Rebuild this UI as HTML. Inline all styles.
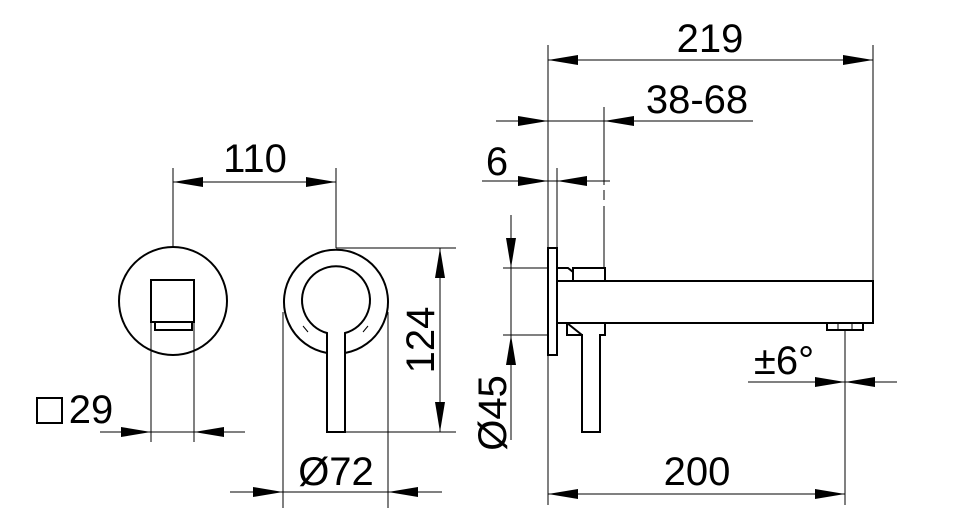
<!DOCTYPE html>
<html><head><style>html,body{margin:0;padding:0;background:#fff;}svg{display:block}</style></head>
<body>
<svg width="960" height="528" viewBox="0 0 960 528" xmlns="http://www.w3.org/2000/svg" font-family="Liberation Sans, sans-serif" font-size="40">
<g stroke="#000" stroke-width="1" fill="none">
<line x1="548" y1="45" x2="548" y2="505"/>
<line x1="873" y1="45" x2="873" y2="281"/>
<line x1="604" y1="107" x2="604" y2="185"/>
<line x1="604" y1="190" x2="604" y2="200"/>
<line x1="604" y1="206" x2="604" y2="268"/>
<line x1="557" y1="168" x2="557" y2="248"/>
<line x1="845" y1="330" x2="845" y2="505"/>
<line x1="503" y1="268" x2="548" y2="268"/>
<line x1="503" y1="335" x2="548" y2="335"/>
<line x1="173" y1="168" x2="173" y2="248"/>
<line x1="336" y1="168" x2="336" y2="248"/>
<line x1="336" y1="248" x2="456" y2="248"/>
<line x1="345" y1="432" x2="456" y2="432"/>
<line x1="283" y1="312" x2="283" y2="508"/>
<line x1="388" y1="312" x2="388" y2="508"/>
<line x1="151" y1="322" x2="151" y2="442"/>
<line x1="194" y1="322" x2="194" y2="442"/>
<line x1="548" y1="60" x2="873" y2="60"/>
<line x1="496" y1="121" x2="753" y2="121"/>
<line x1="482" y1="181" x2="610" y2="181"/>
<line x1="748" y1="382" x2="897" y2="382"/>
<line x1="548" y1="494" x2="845" y2="494"/>
<line x1="511" y1="215" x2="511" y2="440"/>
<line x1="440" y1="248" x2="440" y2="432"/>
<line x1="173" y1="182" x2="336" y2="182"/>
<line x1="230" y1="492" x2="442" y2="492"/>
<line x1="100" y1="432" x2="245" y2="432"/>
</g>
<g stroke="none" fill="#000">
<path d="M548,60 l30,-5 v10 z"/><path d="M873,60 l-30,-5 v10 z"/>
<path d="M548,121 l-30,-5 v10 z"/><path d="M604,121 l30,-5 v10 z"/>
<path d="M548,181 l-30,-5 v10 z"/><path d="M557,181 l30,-5 v10 z"/>
<path d="M845,382 l-30,-5 v10 z"/><path d="M845,382 l30,-5 v10 z"/>
<path d="M548,494 l30,-5 v10 z"/><path d="M845,494 l-30,-5 v10 z"/>
<path d="M511,268 l-5,-30 h10 z"/><path d="M511,335 l-5,30 h10 z"/>
<path d="M440,248 l-5,30 h10 z"/><path d="M440,432 l-5,-30 h10 z"/>
<path d="M173,182 l30,-5 v10 z"/><path d="M336,182 l-30,-5 v10 z"/>
<path d="M283,492 l-30,-5 v10 z"/><path d="M388,492 l30,-5 v10 z"/>
<path d="M151,432 l-30,-5 v10 z"/><path d="M194,432 l30,-5 v10 z"/>
</g>
<g stroke="#000" stroke-width="2" fill="none">
<circle cx="173" cy="301" r="54"/>
<rect x="151" y="280" width="43" height="42"/>
<rect x="155" y="322" width="37" height="8"/>
<path d="M327,432 V353 A52,52 0 1 1 345,353 V432 Z" fill="#fff"/>
<path d="M327,353 V333 A34,34 0 1 1 345,333 V353"/>
<line x1="303" y1="326" x2="308" y2="332" stroke-width="1"/>
<line x1="368" y1="326" x2="363" y2="332" stroke-width="1"/>
<rect x="548" y="248" width="9" height="107"/>
<rect x="557" y="281" width="316" height="42"/>
<rect x="573" y="268" width="32" height="13"/>
<path d="M557,268 L568,268 L573,272 L573,281"/>
<path d="M557,323 L567,323 L567,335 L582,335 L582,432 L600,432 L600,335 L605,335 L605,323"/>
<path d="M567,323 L582,335"/>
<rect x="827" y="323" width="36" height="7"/>
<line x1="838" y1="323" x2="838" y2="330" stroke-width="1"/>
<line x1="852" y1="323" x2="852" y2="330" stroke-width="1"/>
<rect x="37" y="398" width="25" height="25" stroke-width="2"/>
</g>
<g fill="#000">
<text x="710" y="52" text-anchor="middle">219</text>
<text x="697" y="113" text-anchor="middle">38-68</text>
<text x="497" y="175" text-anchor="middle">6</text>
<text x="784" y="374" text-anchor="middle">±6°</text>
<text x="697" y="485" text-anchor="middle">200</text>
<text x="336" y="485" text-anchor="middle">Ø72</text>
<text x="255" y="172" text-anchor="middle">110</text>
<text x="91" y="423" text-anchor="middle">29</text>
<text transform="translate(434,340) rotate(-90)" text-anchor="middle">124</text>
<text transform="translate(506,413) rotate(-90)" text-anchor="middle">Ø45</text>
</g>
</svg>
</body></html>
